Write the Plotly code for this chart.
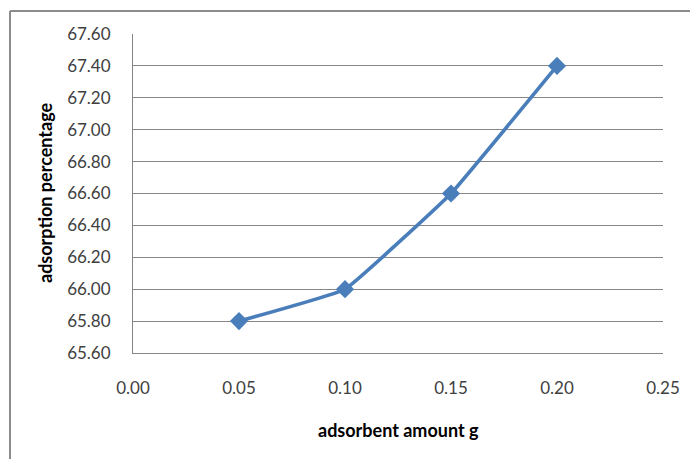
import plotly.graph_objects as go

# Adsorbent dose vs. adsorption percentage
amount_g = [0.05, 0.10, 0.15, 0.20]
adsorption_pct = [65.80, 66.00, 66.60, 67.40]

x_ticks = [0.00, 0.05, 0.10, 0.15, 0.20, 0.25]
y_ticks = [65.60, 65.80, 66.00, 66.20, 66.40, 66.60, 66.80, 67.00, 67.20, 67.40, 67.60]

W, H = 690, 459
L, R, T, B = 133, 663, 34, 353
pw, ph = R - L, B - T

def px(xpix):
    return (xpix - L) / pw

def py(ypix):
    return (B - ypix) / ph

font_family = "Lato, Open Sans, sans-serif"
grid_col = "#868686"
line_col = "#4A7EBB"

fig = go.Figure()
fig.add_trace(go.Scatter(
    x=amount_g, y=adsorption_pct,
    mode="lines+markers",
    line=dict(color=line_col, width=3.6, shape="spline", smoothing=0.25),
    marker=dict(symbol="diamond", size=14, color=line_col),
    showlegend=False,
))

fig.update_layout(
    width=W, height=H,
    margin=dict(l=L, r=W - R, t=T, b=H - B, autoexpand=False),
    paper_bgcolor="white",
    plot_bgcolor="white",
    font=dict(family=font_family, size=17, color="#404040"),
    xaxis=dict(
        range=[0, 0.25], tickvals=x_ticks,
        ticktext=[f"{v:.2f}" for v in x_ticks],
        showgrid=False, zeroline=False,
        showline=True, linecolor=grid_col, linewidth=1,
        ticks="", ticklabelstandoff=20,
    ),
    yaxis=dict(
        range=[65.60, 67.60], tickvals=y_ticks,
        ticktext=[f"{v:.2f}" for v in y_ticks],
        showgrid=True, gridcolor=grid_col, gridwidth=1,
        zeroline=False,
        showline=True, linecolor=grid_col, linewidth=1,
        ticks="", ticklabelstandoff=18,
    ),
    annotations=[
        dict(text="<b>adsorbent amount g</b>", xref="paper", yref="paper",
             x=px(398), y=py(430), xanchor="center", yanchor="middle",
             showarrow=False,
             font=dict(family=font_family, size=18, color="black")),
        dict(text="<b>adsorption percentage</b>", xref="paper", yref="paper",
             x=px(45), y=py(193), xanchor="center", yanchor="middle",
             showarrow=False, textangle=-90,
             font=dict(family=font_family, size=18, color="black")),
    ],
    shapes=[
        # chart frame (left and top edges)
        dict(type="line", xref="paper", yref="paper",
             x0=px(10), x1=px(10), y0=py(11), y1=py(H + 5),
             line=dict(color="#8c8c8c", width=2)),
        dict(type="line", xref="paper", yref="paper",
             x0=px(10), x1=px(W + 5), y0=py(11), y1=py(11),
             line=dict(color="#8c8c8c", width=2)),
    ],
)

fig.write_html("out.html")
